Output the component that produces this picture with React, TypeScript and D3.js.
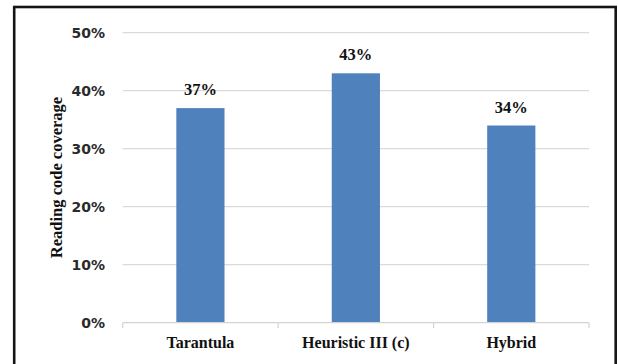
import React from "react";
import * as d3 from "d3";

// Coverage per technique (percent)
const categories = ["Tarantula", "Heuristic III (c)", "Hybrid"];
const coverage = [37, 43, 34];
const yTicks = [0, 10, 20, 30, 40, 50];
const yTitle = "Reading code coverage";

const W = 618;
const H = 364;
const plot = { left: 122.7, right: 589, top: 32.7, bottom: 322.7 };

export default function App() {
  const x = d3
    .scaleBand<string>()
    .domain(categories)
    .range([plot.left, plot.right])
    .padding(0);
  const y = d3.scaleLinear().domain([0, 50]).range([plot.bottom, plot.top]);
  const barW = x.bandwidth() * 0.31;
  const boundaries = [plot.left, ...categories.map((c) => (x(c) as number) + x.bandwidth())];
  const serif = "'Liberation Serif', 'Times New Roman', serif";
  const sans = "'DejaVu Sans', sans-serif";

  return (
    <div style={{ position: "absolute", left: 0, top: 0 }}>
      <svg width={W} height={H} style={{ display: "block", background: "#fff" }}>
        <rect x={14.2} y={7} width={601.5} height={H + 10} fill="#fff" stroke="#151515" strokeWidth={2.6} />

        {/* horizontal gridlines */}
        {yTicks.slice(1).map((t) => (
          <line key={t} x1={plot.left} x2={plot.right} y1={y(t)} y2={y(t)} stroke="#dadada" strokeWidth={1.2} />
        ))}

        {/* bars */}
        {categories.map((c, i) => {
          const cx = (x(c) as number) + x.bandwidth() / 2;
          return (
            <rect
              key={c}
              x={cx - barW / 2}
              y={y(coverage[i])}
              width={barW}
              height={y(0) - y(coverage[i])}
              fill="#4f81bd"
            />
          );
        })}

        {/* category axis */}
        <line x1={plot.left} x2={plot.right} y1={y(0)} y2={y(0)} stroke="#d4d4d4" strokeWidth={1.2} />
        {boundaries.map((bx, i) => (
          <line key={i} x1={bx} x2={bx} y1={y(0)} y2={y(0) + 5.5} stroke="#d4d4d4" strokeWidth={1.2} />
        ))}

        {/* y tick labels */}
        {yTicks.map((t) => (
          <text
            key={t}
            x={105}
            y={y(t) + 5}
            textAnchor="end"
            fontFamily={sans}
            fontWeight="bold"
            fontSize={14}
            fill="#2a2a2a"
          >
            {t}%
          </text>
        ))}

        {/* value labels */}
        {categories.map((c, i) => {
          const cx = (x(c) as number) + x.bandwidth() / 2;
          return (
            <text
              key={c}
              x={cx}
              y={y(coverage[i]) - 13}
              textAnchor="middle"
              fontFamily={serif}
              fontWeight="bold"
              fontSize={16.5}
              fill="#111"
            >
              {coverage[i]}%
            </text>
          );
        })}

        {/* category labels */}
        {categories.map((c) => {
          const cx = (x(c) as number) + x.bandwidth() / 2;
          return (
            <text
              key={c}
              x={cx}
              y={347.7}
              textAnchor="middle"
              fontFamily={serif}
              fontWeight="bold"
              fontSize={16}
              fill="#111"
            >
              {c}
            </text>
          );
        })}

        {/* y axis title */}
        <text
          transform={`translate(61.5, 177.5) rotate(-90)`}
          textAnchor="middle"
          fontFamily={serif}
          fontWeight="bold"
          fontSize={16.5}
          fill="#111"
        >
          {yTitle}
        </text>
      </svg>
    </div>
  );
}
